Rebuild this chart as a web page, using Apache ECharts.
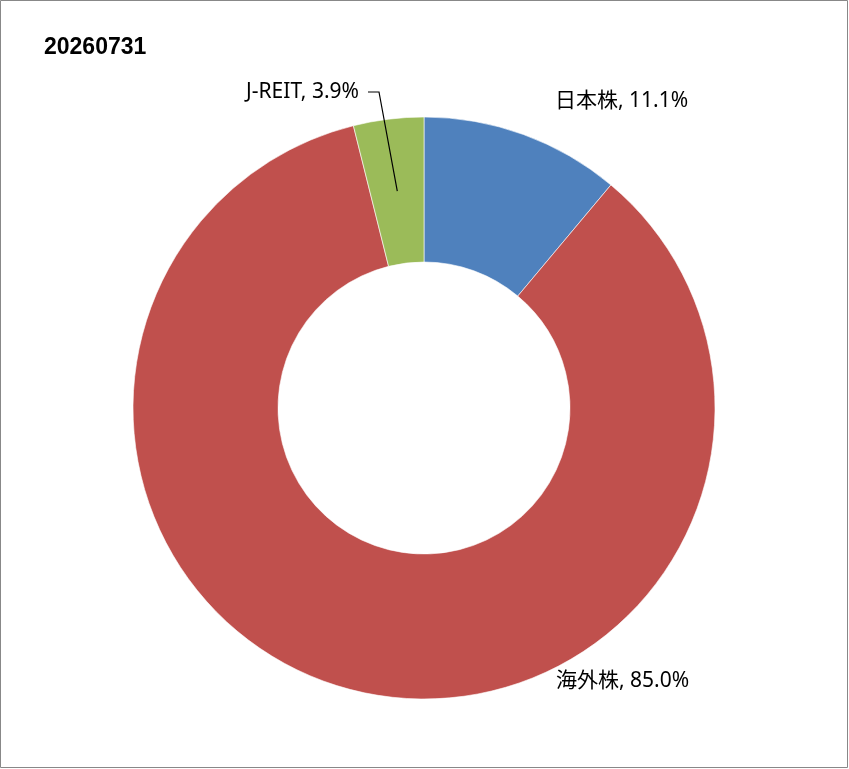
<!DOCTYPE html>
<html>
<head>
<meta charset="utf-8">
<script src="https://cdn.jsdelivr.net/npm/echarts@6/dist/echarts.min.js"></script>
<style>
html,body{margin:0;padding:0;background:#fff;}
#chart{width:849px;height:769px;}
</style>
</head>
<body>
<div id="chart"></div>
<script>
const titleText = "20260731";
const categories = ["日本株", "海外株", "J-REIT"];
const values = [11.1, 85.0, 3.9];
const colors = ["#4F81BD", "#C0504D", "#9BBB59"];

const chart = echarts.init(document.getElementById('chart'), null, {renderer: 'canvas'});

const cx = 424, cy = 408, rIn = 146, rOut = 291;
const labelPos = [
  {x: 555, y: 101, align: 'left'},
  {x: 556, y: 681, align: 'left'},
  {x: 359, y: 92, align: 'right'}
];

const total = values.reduce((a, b) => a + b, 0);
function midPoint(i) {
  let before = 0;
  for (let k = 0; k < i; k++) before += values[k];
  const frac = (before + values[i] / 2) / total;
  const ang = frac * 2 * Math.PI;
  const r = (rIn + rOut) / 2;
  return [cx + r * Math.sin(ang), cy - r * Math.cos(ang)];
}
const jm = midPoint(2);

const option = {
  animation: false,
  backgroundColor: '#fff',
  title: {
    text: titleText,
    left: 39,
    top: 31,
    textStyle: {fontFamily: 'Liberation Sans, Arial, sans-serif', fontWeight: 'bold', fontSize: 23, color: '#000'}
  },
  graphic: [{
    type: 'rect',
    shape: {x: 0.5, y: 0.5, width: 847, height: 767},
    style: {fill: 'none', stroke: '#888', lineWidth: 1},
    silent: true,
    z: 0
  }, {
    type: 'polyline',
    shape: {points: [[labelPos[2].x + 9, labelPos[2].y], [labelPos[2].x + 20, labelPos[2].y], jm]},
    style: {fill: 'none', stroke: '#000', lineWidth: 1.2},
    silent: true,
    z: 100
  }],
  series: [{
    type: 'pie',
    center: [cx, cy],
    radius: [rIn, rOut],
    startAngle: 90,
    clockwise: true,
    avoidLabelOverlap: false,
    itemStyle: {borderColor: '#fff', borderWidth: 0.6},
    label: {
      show: true,
      position: 'outside',
      formatter: p => p.name + ', ' + p.value.toFixed(1) + '%',
      fontFamily: 'Noto Sans, Noto Sans CJK JP, sans-serif',
      fontSize: 21,
      color: '#000'
    },
    labelLine: {show: false},
    labelLayout: function (params) {
      const lp = labelPos[params.dataIndex];
      return {x: lp.x, y: lp.y, align: lp.align, verticalAlign: 'middle'};
    },
    data: categories.map((c, i) => ({
      name: c,
      value: values[i],
      itemStyle: {color: colors[i]}
    }))
  }]
};
chart.setOption(option);
</script>
</body>
</html>
